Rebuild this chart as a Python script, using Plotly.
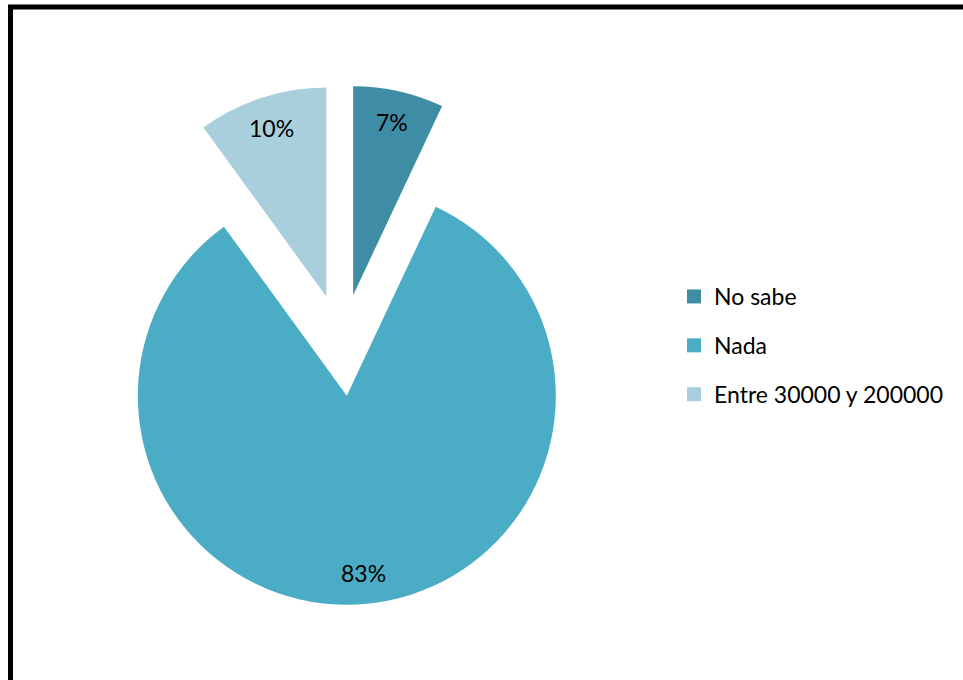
import math
import plotly.graph_objects as go

labels = ["No sabe", "Nada", "Entre 30000 y 200000"]
values = [7, 83, 10]
colors = ["#3F8DA4", "#4BACC6", "#A9CEDC"]
pull = 0.244

W, H = 963, 680
# pie geometry (pixels)
cx, cy, r = 342, 345, 209
half = r * (1 + pull)
dom_x = [(cx - half) / W, (cx + half) / W]
dom_y = [1 - (cy + half) / H, 1 - (cy - half) / H]

fig = go.Figure()
fig.add_trace(go.Pie(
    labels=labels, values=values, sort=False, direction="clockwise", rotation=0,
    marker=dict(colors=colors, line=dict(width=0)),
    pull=[pull] * len(values), textinfo="none",
    domain=dict(x=dom_x, y=dom_y),
    showlegend=False, hoverinfo="label+percent",
))
for lab, col in zip(labels, colors):
    fig.add_trace(go.Scatter(
        x=[None], y=[None], mode="markers", name=lab, legendgroup=lab,
        marker=dict(symbol="square", size=14, color=col), showlegend=True,
    ))

# percentage labels placed along each slice bisector
total = sum(values)
annotations = []
cum = 0
for v in values:
    mid = (cum + v / 2) / total * 2 * math.pi
    cum += v
    dist = r * pull + r * 0.85
    px = cx + dist * math.sin(mid)
    py = cy - dist * math.cos(mid)
    annotations.append(dict(
        x=px / W, y=1 - py / H, xref="paper", yref="paper",
        xanchor="center", yanchor="middle",
        text=f"{round(100 * v / total)}%", showarrow=False,
        font=dict(family="Lato", size=23, color="black"),
    ))

fig.update_layout(
    width=W, height=H, margin=dict(l=0, r=0, t=0, b=0),
    paper_bgcolor="white", plot_bgcolor="white",
    xaxis=dict(visible=False), yaxis=dict(visible=False),
    legend=dict(x=674 / W, xanchor="left", y=1 - 275 / H, yanchor="top",
                font=dict(family="Lato", size=23, color="black"),
                tracegroupgap=16, bgcolor="rgba(0,0,0,0)"),
    annotations=annotations,
    shapes=[dict(type="rect", xref="paper", yref="paper",
                 x0=10.5 / W, x1=1.05, y0=-0.05, y1=1 - 7 / H,
                 line=dict(color="black", width=5), fillcolor="rgba(0,0,0,0)")],
)
fig.write_html("out.html", config={"displayModeBar": False},
               post_script="document.body.style.margin='0';document.body.style.overflow='hidden';")
